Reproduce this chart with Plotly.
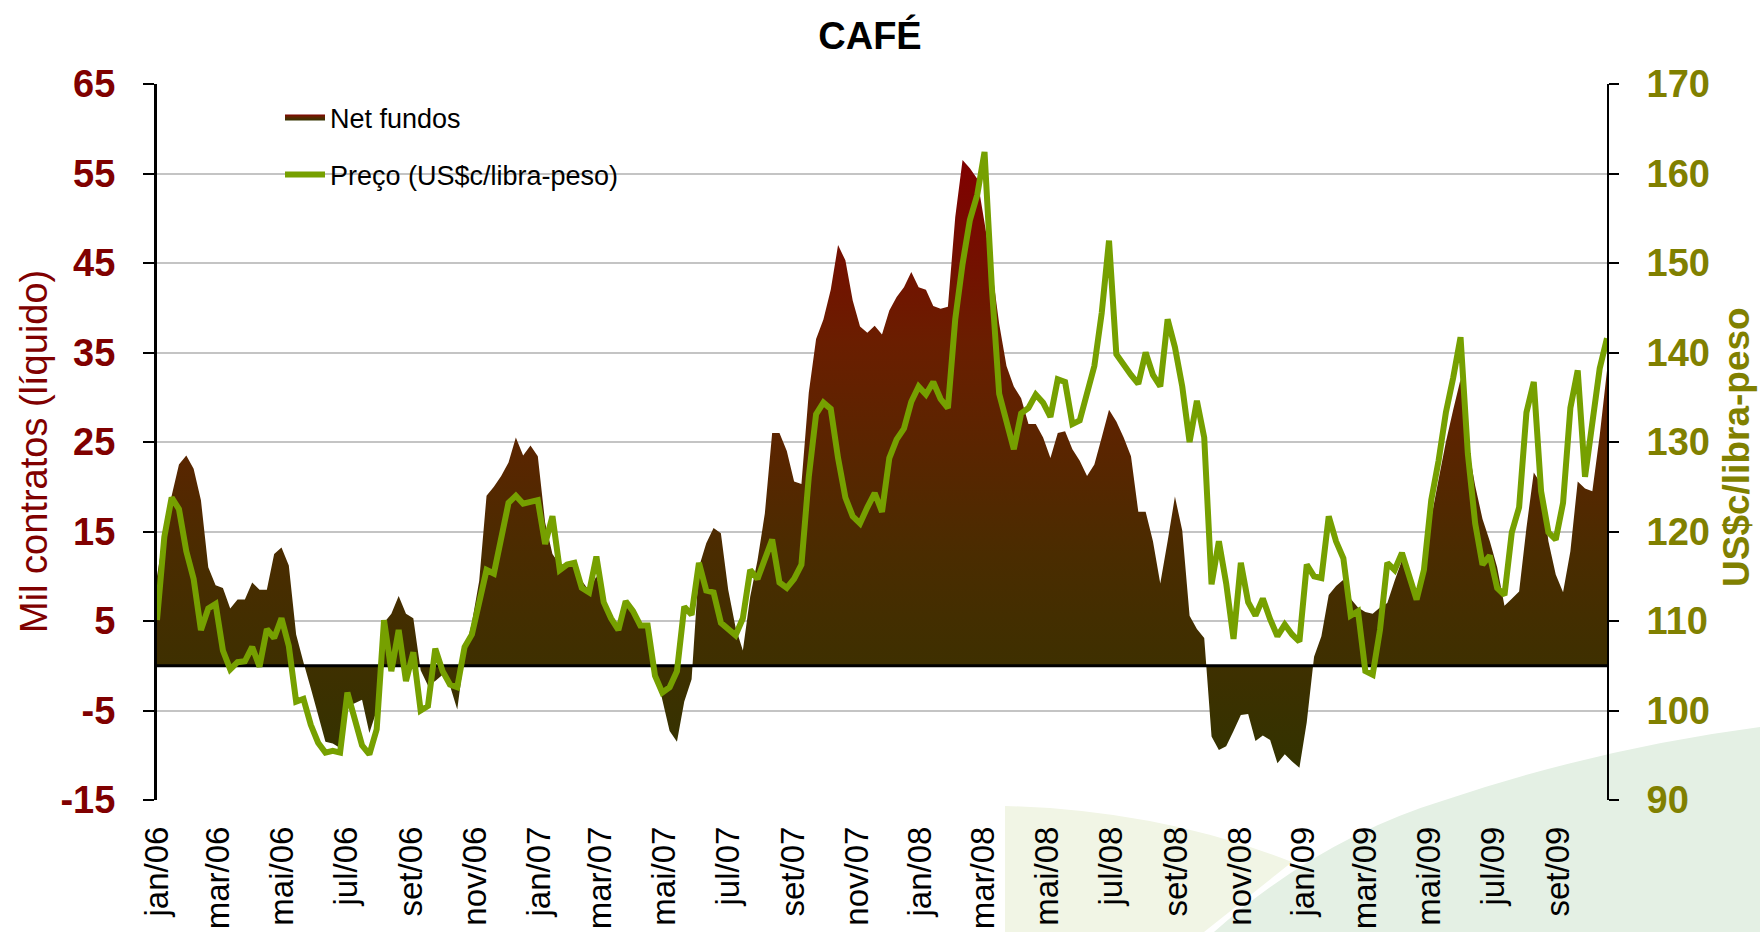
import pandas as pd
import plotly.graph_objects as go

# ---------------- data (weekly, from 03/jan/2006) ----------------
start_date = "2006-01-03"

net_fundos = [
    10, 15, 19, 22.5, 23.5, 22, 18.5, 11, 9, 8.7,
    6.4, 7.4, 7.4, 9.3, 8.5, 8.5, 12.5, 13.2, 11.2, 3.5,
    0.4, -2.5, -5.5, -8.5, -8.7, -9.2, -4.5, -4.2, -3.8, -7.5,
    -5, 4.8, 5.8, 7.8, 5.8, 5.3, -0.5, -2.2, -1.7, -1.0,
    -2.2, -4.9, 1.4, 4.8, 9.5, 19, 20, 21.2, 22.7, 25.5,
    23.5, 24.6, 23.4, 16, 12.5, 11.3, 11.3, 11.0, 9.5, 8.4,
    10.0, 7.4, 5.6, 4.6, 7.0, 6.0, 4.8, 4.3, 0, -3.8,
    -7.3, -8.5, -4.0, -1.5, 11, 13.7, 15.4, 14.8, 8.5, 4.3,
    1.7, 7.7, 11.8, 17, 26, 26, 24, 20.6, 20.3, 30.5,
    36.5, 38.7, 42, 47, 45.3, 40.8, 37.9, 37.2, 38, 37,
    39.7, 41.2, 42.3, 44.0, 42.3, 42.0, 40.2, 39.9, 40.1, 50.1,
    56.5, 55.6, 54.4, 49.5, 44.4, 38.2, 33.5, 31.2, 29.9, 27.0,
    27.0, 25.5, 23.2, 26.0, 26.2, 24.2, 22.9, 21.2, 22.5, 25.5,
    28.6, 27.3, 25.5, 23.4, 17.2, 17.2, 13.9, 9.2, 13.9, 18.9,
    15.1, 5.6, 4.1, 3.1, -7.9, -9.4, -9.0, -7.3, -5.5, -5.4,
    -8.4, -7.8, -8.3, -10.9, -9.9, -10.7, -11.4, -6.3, 1.0, 3.3,
    7.9, 8.9, 9.6, 7.5, 6.5, 6.0, 5.8, 6.5, 7.0, 9.5,
    11.8, 9.7, 7.4, 11.3, 16.5, 20.8, 25.0, 28.6, 32.0, 24.7,
    20.1, 16.4, 13.9, 11.0, 6.7, 7.5, 8.3, 15.4, 21.6, 20.3,
    13.9, 10.2, 8.2, 12.8, 20.6, 19.8, 19.5, 25.7, 33.0,
]

preco = [
    110.1, 119.4, 123.8, 122.5, 117.8, 114.7, 109.0, 111.4, 111.9, 106.7,
    104.6, 105.4, 105.5, 107.1, 104.9, 109.1, 108.1, 110.3, 107.2, 101.0,
    101.3, 98.4, 96.4, 95.3, 95.5, 95.3, 102.0, 99.2, 96.1, 95.1,
    97.9, 110.1, 104.4, 109.0, 103.3, 106.5, 100.0, 100.5, 106.9, 104.4,
    102.9, 102.6, 107.1, 108.5, 112.1, 115.7, 115.3, 119.4, 123.2, 124.0,
    123.1, 123.3, 123.5, 118.6, 121.7, 115.7, 116.3, 116.5, 113.7, 113.2,
    117.2, 112.1, 110.3, 109.0, 112.2, 111.1, 109.5, 109.5, 103.9, 102.0,
    102.6, 104.4, 111.6, 110.7, 116.5, 113.4, 113.2, 109.8, 109.0, 108.4,
    110.3, 115.7, 114.7, 117.0, 119.1, 114.3, 113.7, 114.7, 116.3, 126.1,
    133.1, 134.4, 133.7, 128.2, 123.8, 121.7, 120.9, 122.7, 124.3, 122.2,
    128.2, 130.3, 131.5, 134.5, 136.2, 135.3, 136.7, 134.8, 133.8, 143.7,
    149.9, 154.8, 157.6, 162.4, 147.3, 135.4, 132.6, 129.2, 133.2, 133.8,
    135.3, 134.4, 132.8, 137.0, 136.7, 132.0, 132.4, 135.7, 138.5, 144.4,
    152.5, 139.8, 138.5, 137.5, 136.5, 140.0, 137.5, 136.2, 143.7, 140.6,
    136.2, 130.0, 134.6, 130.5, 114.1, 118.9, 114.2, 108.0, 116.5, 112.1,
    110.6, 112.5, 110.2, 108.3, 109.6, 108.5, 107.7, 116.3, 115.0, 114.8,
    121.7, 118.9, 117.0, 110.6, 111.1, 104.4, 104.0, 109.0, 116.5, 115.7,
    117.6, 115.0, 112.4, 115.7, 123.5, 127.9, 133.3, 137.2, 141.7, 128.7,
    120.9, 116.3, 117.3, 113.7, 112.9, 119.9, 122.7, 133.3, 136.7, 124.5,
    119.9, 119.1, 123.2, 133.8, 138.0, 126.1, 132.8, 138.2, 141.6,
]

tick_labels = [
    "jan/06", "mar/06", "mai/06", "jul/06", "set/06", "nov/06",
    "jan/07", "mar/07", "mai/07", "jul/07", "set/07", "nov/07",
    "jan/08", "mar/08", "mai/08", "jul/08", "set/08", "nov/08",
    "jan/09", "mar/09", "mai/09", "jul/09", "set/09",
]

left_ticks = [-15, -5, 5, 15, 25, 35, 45, 55, 65]
left_tick_labels = ["-15", "-5", "5", "15", "25", "35", "45", "55", "65"]
right_ticks = [90, 100, 110, 120, 130, 140, 150, 160, 170]

left_range = [-15, 65]
right_range = [90, 170]

# ---------------- derived ----------------
dates = pd.date_range(start_date, periods=len(net_fundos), freq="7D")
tick_vals = [pd.Timestamp(start_date) + pd.DateOffset(months=2 * k)
             for k in range(len(tick_labels))]

FONT = "Liberation Sans, Arial, sans-serif"
DARKRED = "#800000"
OLIVE = "#808000"
GREEN = "#76A000"

# plot area in page pixels (used only to place decorations)
L, R, T, B = 157, 1607, 84, 800
W, H = R - L, B - T


def px(xp):
    return (xp - L) / W


def py(yp):
    return (B - yp) / H


fig = go.Figure()

fig.add_trace(go.Scatter(
    x=dates, y=net_fundos, name="Net fundos", mode="none",
    fill="tozeroy",
    fillgradient=dict(type="vertical",
                      colorscale=[[0, "#333300"], [0.35, "#4a2c00"],
                                  [0.7, "#6a1e00"], [1, "#800000"]]),
    yaxis="y", legend="legend",
))

# horizontal axis line at zero (Excel category axis crossing at 0)
fig.add_trace(go.Scatter(
    x=[dates[0], dates[-1]], y=[0, 0], mode="lines",
    line=dict(color="black", width=3), showlegend=False, hoverinfo="skip",
    yaxis="y",
))

fig.add_trace(go.Scatter(
    x=dates, y=preco, name="Preço (US$c/libra-peso)", mode="lines",
    line=dict(color=GREEN, width=6, shape="linear"),
    yaxis="y2", legend="legend2",
))

# faint background logo swooshes
fig.add_shape(type="path", xref="paper", yref="paper", layer="below",
              path=(f"M {px(1005)},{py(932)} L {px(1005)},{py(806)} "
                    f"Q {px(1160)},{py(810)} {px(1292)},{py(862)} "
                    f"L {px(1204)},{py(932)} Z"),
              fillcolor="#F1F5E5", line=dict(width=0))
fig.add_shape(type="path", xref="paper", yref="paper", layer="below",
              path=(f"M {px(1214)},{py(932)} "
                    f"Q {px(1320)},{py(838)} {px(1445)},{py(800)} "
                    f"Q {px(1600)},{py(748)} {px(1760)},{py(727)} "
                    f"L {px(1760)},{py(932)} Z"),
              fillcolor="#E4F0E4", line=dict(width=0))

fig.update_layout(
    width=1760, height=932,
    margin=dict(l=L, r=1760 - R, t=T, b=932 - B, autoexpand=False),
    paper_bgcolor="white", plot_bgcolor="rgba(0,0,0,0)",
    font=dict(family=FONT, color="black"),
    title=dict(text="CAFÉ", x=870 / 1760, xanchor="center",
               y=1 - 36 / 932, yanchor="middle",
               font=dict(size=38, color="black", weight="bold")),
    xaxis=dict(
        type="date", range=[dates[0], dates[-1]],
        tickmode="array", tickvals=tick_vals, ticktext=tick_labels,
        tickangle=-90, tickfont=dict(size=33, color="black"),
        showgrid=False, zeroline=False, showline=False, ticks="",
        ticklabelstandoff=19, automargin=False,
    ),
    yaxis=dict(
        range=left_range, tickmode="array", tickvals=left_ticks,
        ticktext=left_tick_labels,
        tickfont=dict(size=38, color=DARKRED, weight="bold"),
        showgrid=True, gridcolor="#C4C4C4", gridwidth=2,
        zeroline=False, showline=True, linecolor="black", linewidth=3,
        ticks="outside", ticklen=11, tickwidth=2, tickcolor="black",
        ticklabelstandoff=20, automargin=False,
    ),
    yaxis2=dict(
        range=right_range, tickmode="array", tickvals=right_ticks,
        overlaying="y", side="right",
        tickfont=dict(size=38, color=OLIVE, weight="bold"),
        showgrid=False, zeroline=False, showline=True, linecolor="black",
        linewidth=2, ticks="outside", ticklen=10, tickwidth=2,
        tickcolor="black", ticklabelstandoff=20, automargin=False,
    ),
    legend=dict(x=px(280), y=py(118), xanchor="left", yanchor="middle",
                bgcolor="rgba(0,0,0,0)", font=dict(size=27, color="black"),
                itemwidth=40),
    legend2=dict(x=px(280), y=py(175), xanchor="left", yanchor="middle",
                 bgcolor="rgba(0,0,0,0)", font=dict(size=27, color="black"),
                 itemwidth=40),
    annotations=[
        dict(text="Mil contratos (líquido)", xref="paper", yref="paper",
             x=px(34), y=py(452), xanchor="center", yanchor="middle",
             textangle=-90, showarrow=False,
             font=dict(size=38, color=DARKRED)),
        dict(text="US$c/libra-peso", xref="paper", yref="paper",
             x=px(1736), y=py(447), xanchor="center", yanchor="middle",
             textangle=-90, showarrow=False,
             font=dict(size=37, color=OLIVE, weight="bold")),
    ],
    showlegend=True,
)

fig.write_html(
    "out.html",
    config={"displayModeBar": False},
    post_script="document.body.style.margin='0px';"
                "document.body.style.overflow='hidden';",
)
